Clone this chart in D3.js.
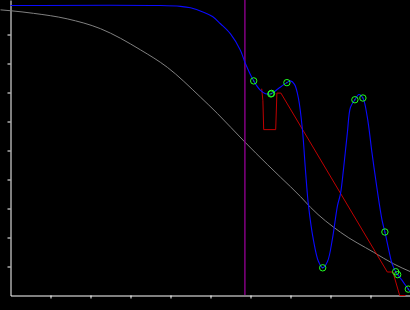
<!DOCTYPE html>
<html><head><meta charset="utf-8">
<script src="https://cdn.jsdelivr.net/npm/d3@7"></script>
<style>html,body{margin:0;padding:0;background:#000;overflow:hidden}</style>
</head><body>
<svg id="c" width="410" height="310"></svg>
<script>
// Data (in chart units)
const xTicks = [1,2,3,4,5,6,7,8,9];
const yTicks = [1,2,3,4,5,6,7,8,9];
const markerX = 5.86;

const pointsX = [6.08, 6.51, 6.525, 6.91, 7.805, 8.61, 8.81, 9.36, 9.63, 9.68, 9.945];
const pointsY = [7.40, 6.95, 6.97, 7.34, 0.955, 6.75, 6.81, 2.19, 0.82, 0.72, 0.22];

const blueX = [0, 3.75, 4.25, 4.5, 4.825, 5.05, 5.25, 5.5, 5.75, 5.875, 6.08, 6.25, 6.375, 6.52, 6.7, 6.91, 7.0, 7.1, 7.2, 7.3, 7.375, 7.45, 7.575, 7.7, 7.805, 7.925, 8.05, 8.175, 8.25, 8.33, 8.42, 8.5, 8.61, 8.71, 8.81, 8.92, 9.04, 9.17, 9.29, 9.36, 9.46, 9.54, 9.63, 9.68, 9.79, 9.945, 10];
const blueY = [10, 10, 9.97, 9.92, 9.77, 9.62, 9.37, 9.02, 8.45, 7.99, 7.40, 7.07, 6.96, 6.96, 7.14, 7.34, 7.40, 7.28, 6.79, 5.69, 4.31, 3.10, 1.90, 1.17, 0.955, 1.17, 1.97, 3.10, 3.51, 4.42, 5.59, 6.49, 6.75, 6.93, 6.81, 6.15, 4.89, 3.62, 2.59, 2.19, 1.55, 1.09, 0.82, 0.72, 0.52, 0.22, 0.12];

const greyX = [-0.25, 0, 0.575, 1.4175, 2.25, 3.25, 3.92, 4.75, 5.17, 5.86, 6.42, 6.75, 7.25, 7.5, 8.25, 9.08, 9.58, 10];
const greyY = [9.85, 9.82, 9.73, 9.54, 9.20, 8.47, 7.87, 6.84, 6.28, 5.29, 4.52, 4.08, 3.41, 3.04, 2.18, 1.49, 1.09, 0.82];

const redX = [6.28, 6.31, 6.33, 6.63, 6.66, 6.76, 9.42, 9.56, 9.73, 9.875];
const redY = [7.13, 6.72, 5.72, 5.72, 6.98, 6.98, 0.81, 0.81, 0, 0];

const svg = d3.select("#c");
svg.append("rect").attr("width",410).attr("height",310).attr("fill","#000");

const x = d3.scaleLinear().domain([0,10]).range([10.5,410.5]);
const y = d3.scaleLinear().domain([0,10]).range([295.5,5.5]);

// axes
const yAxisScale = d3.scaleLinear().domain([0, 295.5/29]).range([295.5, 0]);
const gy = svg.append("g").attr("transform","translate(10.5,0)")
  .call(d3.axisLeft(yAxisScale).tickValues(yTicks).tickSize(3).tickSizeOuter(0).tickFormat(""));
const gx = svg.append("g").attr("transform","translate(0,295.5)")
  .call(d3.axisBottom(x).tickValues(xTicks).tickSize(3).tickSizeOuter(0).tickFormat(""));
svg.selectAll(".domain, .tick line").attr("stroke","#fff").attr("stroke-width",1);

const line = d3.line().x(d=>x(d[0])).y(d=>y(d[1]));

// grey curve
svg.append("path").datum(greyX.map((v,i)=>[v,greyY[i]]))
  .attr("d", line.curve(d3.curveMonotoneX)).attr("fill","none").attr("stroke","#808080").attr("stroke-width",1);

// marker line
svg.append("line").attr("x1",x(markerX)).attr("x2",x(markerX)).attr("y1",0).attr("y2",295)
  .attr("stroke","#8c008c").attr("stroke-width",1.4);

// red piecewise line
svg.append("path").datum(redX.map((v,i)=>[v,redY[i]]))
  .attr("d", d3.line().x(d=>x(d[0])).y(d=>y(d[1]))).attr("fill","none").attr("stroke","#c00000").attr("stroke-width",1);

// blue curve
svg.append("path").datum(blueX.map((v,i)=>[v,blueY[i]]))
  .attr("d", d3.line().x(d=>x(d[0])).y(d=>y(d[1])).curve(d3.curveCatmullRom.alpha(0.5))).attr("fill","none").attr("stroke","#0a0aff").attr("stroke-width",1.1);

// points
const pts = pointsX.map((v,i)=>[v,pointsY[i]]);
svg.selectAll("circle.p").data(pts).join("circle").attr("class","p")
  .attr("cx",d=>x(d[0])).attr("cy",d=>y(d[1])).attr("r",3.2)
  .attr("fill","none").attr("stroke","#22ff22").attr("stroke-width",1);
svg.selectAll("circle.c").data(pts).join("circle").attr("class","c")
  .attr("cx",d=>x(d[0])).attr("cy",d=>y(d[1])).attr("r",0.6)
  .attr("fill","#22aa66");
</script>
</body></html>
